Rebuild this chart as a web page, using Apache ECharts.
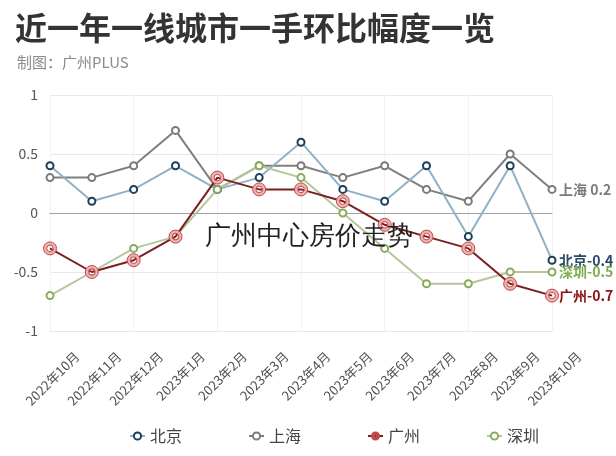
<!DOCTYPE html>
<html>
<head>
<meta charset="utf-8">
<script src="https://cdn.jsdelivr.net/npm/echarts@6/dist/echarts.min.js"></script>
<style>
html,body{margin:0;padding:0;background:#fff;}
#main{width:616px;height:456px;}
</style>
</head>
<body>
<div id="main"></div>
<script>
const categories = ['2022年10月','2022年11月','2022年12月','2023年1月','2023年2月','2023年3月','2023年4月','2023年5月','2023年6月','2023年7月','2023年8月','2023年9月','2023年10月'];
const beijing   = [0.4, 0.1, 0.2, 0.4, 0.2, 0.3, 0.6, 0.2, 0.1, 0.4, -0.2, 0.4, -0.4];
const shanghai  = [0.3, 0.3, 0.4, 0.7, 0.2, 0.4, 0.4, 0.3, 0.4, 0.2, 0.1, 0.5, 0.2];
const guangzhou = [-0.3, -0.5, -0.4, -0.2, 0.3, 0.2, 0.2, 0.1, -0.1, -0.2, -0.3, -0.6, -0.7];
const shenzhen  = [-0.7, -0.5, -0.3, -0.2, 0.2, 0.4, 0.3, 0.0, -0.3, -0.6, -0.6, -0.5, -0.5];
const yMin = -1, yMax = 1, yStep = 0.5;

const FONT = '"Noto Sans CJK SC", "Noto Sans", sans-serif';
const ringPath = 'path://M0,-10A10,10,0,1,1,0,10A10,10,0,1,1,0,-10ZM0,-5A5,5,0,1,0,0,5A5,5,0,1,0,0,-5Z';

function endFmt(p) {
  const v = p.value;
  return p.seriesName + (v >= 0 ? ' ' : '') + v;
}
function mkSeries(name, data, lineColor, markColor, labelColor, extra) {
  return Object.assign({
    name: name, type: 'line', data: data,
    xAxisIndex: 0, yAxisIndex: 0,
    symbol: 'emptyCircle', symbolSize: 7,
    lineStyle: { color: lineColor, width: 2 },
    itemStyle: { color: markColor, borderWidth: 1.6 },
    endLabel: { show: true, formatter: endFmt, color: labelColor, fontWeight: 'bold', fontSize: 14, fontFamily: FONT, distance: 7 },
    emphasis: { disabled: true }
  }, extra || {});
}

const chart = echarts.init(document.getElementById('main'), null, { renderer: 'canvas' });
chart.setOption({
  animation: false,
  backgroundColor: '#fff',
  textStyle: { fontFamily: FONT },
  title: [
    { text: '近一年一线城市一手环比幅度一览', left: 10, top: 7,
      textStyle: { fontSize: 32, fontWeight: 'bold', color: '#333', fontFamily: FONT } },
    { text: '制图：广州PLUS', left: 12, top: 50,
      textStyle: { fontSize: 15, fontWeight: 'normal', color: '#8a8a8a', fontFamily: FONT } }
  ],
  legend: {
    left: 124, top: 423, itemGap: 66, itemWidth: 15, itemHeight: 9,
    textStyle: { fontSize: 16, color: '#444', fontFamily: FONT },
    data: ['北京', '上海', '广州', '深圳']
  },
  graphic: [{
    type: 'text', left: 205, top: 224, silent: true, z: 100,
    style: { text: '广州中心房价走势', fontSize: 26, fontWeight: 300, fill: '#222', font: '300 26px ' + FONT }
  }],
  grid: [
    { left: 50, right: 64, top: 95, bottom: 125 },
    { left: 77, right: 37, top: 95, bottom: 125 }
  ],
  xAxis: [
    { type: 'category', gridIndex: 0, data: categories, boundaryGap: false,
      axisLine: { show: true, onZero: true, lineStyle: { color: '#a0a0a0', width: 1 } },
      axisTick: { show: false }, axisLabel: { show: false },
      splitLine: { show: true, lineStyle: { color: '#f2f2f2' } } },
    { type: 'category', gridIndex: 1, data: categories, boundaryGap: false,
      axisLine: { show: false }, axisTick: { show: false }, splitLine: { show: false },
      axisLabel: { show: true, rotate: 45, margin: 23, interval: 0, fontSize: 13, color: '#505050', fontFamily: FONT } }
  ],
  yAxis: [
    { type: 'value', gridIndex: 0, min: yMin, max: yMax, interval: yStep,
      axisLine: { show: false }, axisTick: { show: false },
      axisLabel: { fontSize: 14, color: '#555', margin: 12, fontFamily: FONT },
      splitLine: { lineStyle: { color: '#e8e8e8' } } },
    { type: 'value', gridIndex: 1, min: yMin, max: yMax, show: false }
  ],
  series: [
    mkSeries('北京', beijing, '#8fb1c6', '#1f3f58', '#2b4a68', { z: 3 }),
    mkSeries('上海', shanghai, '#7f7f7f', '#7a7a7a', '#7a7a7a', { z: 2 }),
    mkSeries('深圳', shenzhen, '#b3c79a', '#8aab5e', '#7fae4f', { z: 3 }),
    mkSeries('广州', guangzhou, '#7d1f1f', '#e9a3a3', '#8b1414', {
      z: 5, symbol: ringPath, symbolSize: 13,
      itemStyle: { color: '#efb0b0', borderColor: '#c04a4a', borderWidth: 1 }
    })
  ]
});
</script>
</body>
</html>
